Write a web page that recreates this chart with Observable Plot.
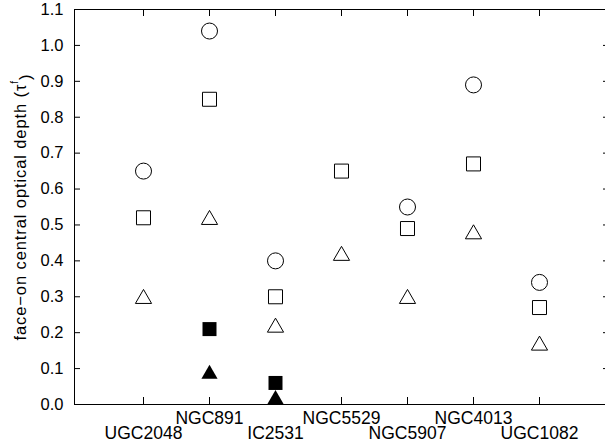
<!DOCTYPE html>
<html><head><meta charset="utf-8">
<script src="https://cdn.jsdelivr.net/npm/d3@7"></script>
<script src="https://cdn.jsdelivr.net/npm/@observablehq/plot@0.6"></script>
<style>body{margin:0;background:#fff;overflow:hidden;}</style>
</head><body><div id="chart"></div>
<script>
const galaxies = ["UGC2048","NGC891","IC2531","NGC5529","NGC5907","NGC4013","UGC1082"];
const openCircle     = [0.65, 1.04, 0.40, null, 0.55, 0.89, 0.34];
const openSquare     = [0.52, 0.85, 0.30, 0.65, 0.49, 0.67, 0.27];
const openTriangle   = [0.30, 0.52, 0.22, 0.42, 0.30, 0.48, 0.17];
const filledSquare   = [null, 0.21, 0.06, null, null, null, null];
const filledTriangle = [null, 0.09, 0.02, null, null, null, null];
const yTicks = [0, 0.1, 0.2, 0.3, 0.4, 0.5, 0.6, 0.7, 0.8, 0.9, 1.0, 1.1];
const yLabel = "face\u2212on central optical depth (\u03C4";

const rows = vals => vals.map((v, i) => ({galaxy: galaxies[i], value: v})).filter(d => d.value != null);
const lowLabels = galaxies.filter((d, i) => i % 2 === 0);
const highLabels = galaxies.filter((d, i) => i % 2 === 1);
const blank = () => "";

const chart = Plot.plot({
  width: 605,
  height: 448,
  marginLeft: 74,
  marginRight: -3,
  marginTop: 9,
  marginBottom: 44,
  style: {fontFamily: "'Liberation Sans', Arial, Helvetica, sans-serif", fontSize: "16.5px", background: "#fff", color: "#000"},
  x: {type: "point", domain: galaxies, padding: 1},
  y: {domain: [0, 1.1]},
  marks: [
    Plot.frame({stroke: "#000", strokeWidth: 1}),
    Plot.axisY({anchor: "left", ticks: yTicks, tickSize: -6, tickFormat: blank, label: null}),
    Plot.axisY({anchor: "right", ticks: yTicks, tickSize: -6, tickFormat: blank, label: null}),
    Plot.axisY({anchor: "left", ticks: yTicks, tickSize: 0, tickPadding: 11, tickFormat: d3.format(".1f"), label: null}),
    Plot.axisX({anchor: "top", tickSize: -6, tickFormat: blank, label: null}),
    Plot.axisX({anchor: "bottom", tickSize: -7, tickFormat: blank, label: null}),
    Plot.axisX({anchor: "bottom", ticks: highLabels, tickSize: 0, tickPadding: 7, fontSize: 17.5, label: null}),
    Plot.axisX({anchor: "bottom", ticks: lowLabels, tickSize: 0, tickPadding: 22, fontSize: 17.5, label: null}),
    Plot.text([yLabel], {frameAnchor: "left", dx: -54, rotate: -90, textAnchor: "middle", fontSize: 16.5}),
    Plot.dot(rows(openCircle), {x: "galaxy", y: "value", symbol: "circle", r: 8, stroke: "#000", fill: "none", strokeWidth: 1}),
    Plot.dot(rows(openSquare), {x: "galaxy", y: "value", symbol: "square", r: 7.9, stroke: "#000", fill: "none", strokeWidth: 1}),
    Plot.dot(rows(openTriangle), {x: "galaxy", y: "value", symbol: "triangle", r: 6, dy: 2, stroke: "#000", fill: "none", strokeWidth: 1}),
    Plot.dot(rows(filledSquare), {x: "galaxy", y: "value", symbol: "square", r: 7.9, fill: "#000", stroke: "none"}),
    Plot.dot(rows(filledTriangle), {x: "galaxy", y: "value", symbol: "triangle", r: 6, dy: 2, fill: "#000", stroke: "none"})
  ]
});
document.getElementById("chart").appendChild(chart);

// superscript f in the y label
d3.select(chart).selectAll("text").each(function() {
  const t = d3.select(this);
  if (t.text() === yLabel) {
    t.style("letter-spacing", "0.9px");
    t.text(yLabel);
    t.append("tspan").attr("dy", "-0.75em").attr("font-size", "10px").text("f");
    t.append("tspan").attr("dy", "0.75em").text(")");
  }
});
</script>
</body></html>
